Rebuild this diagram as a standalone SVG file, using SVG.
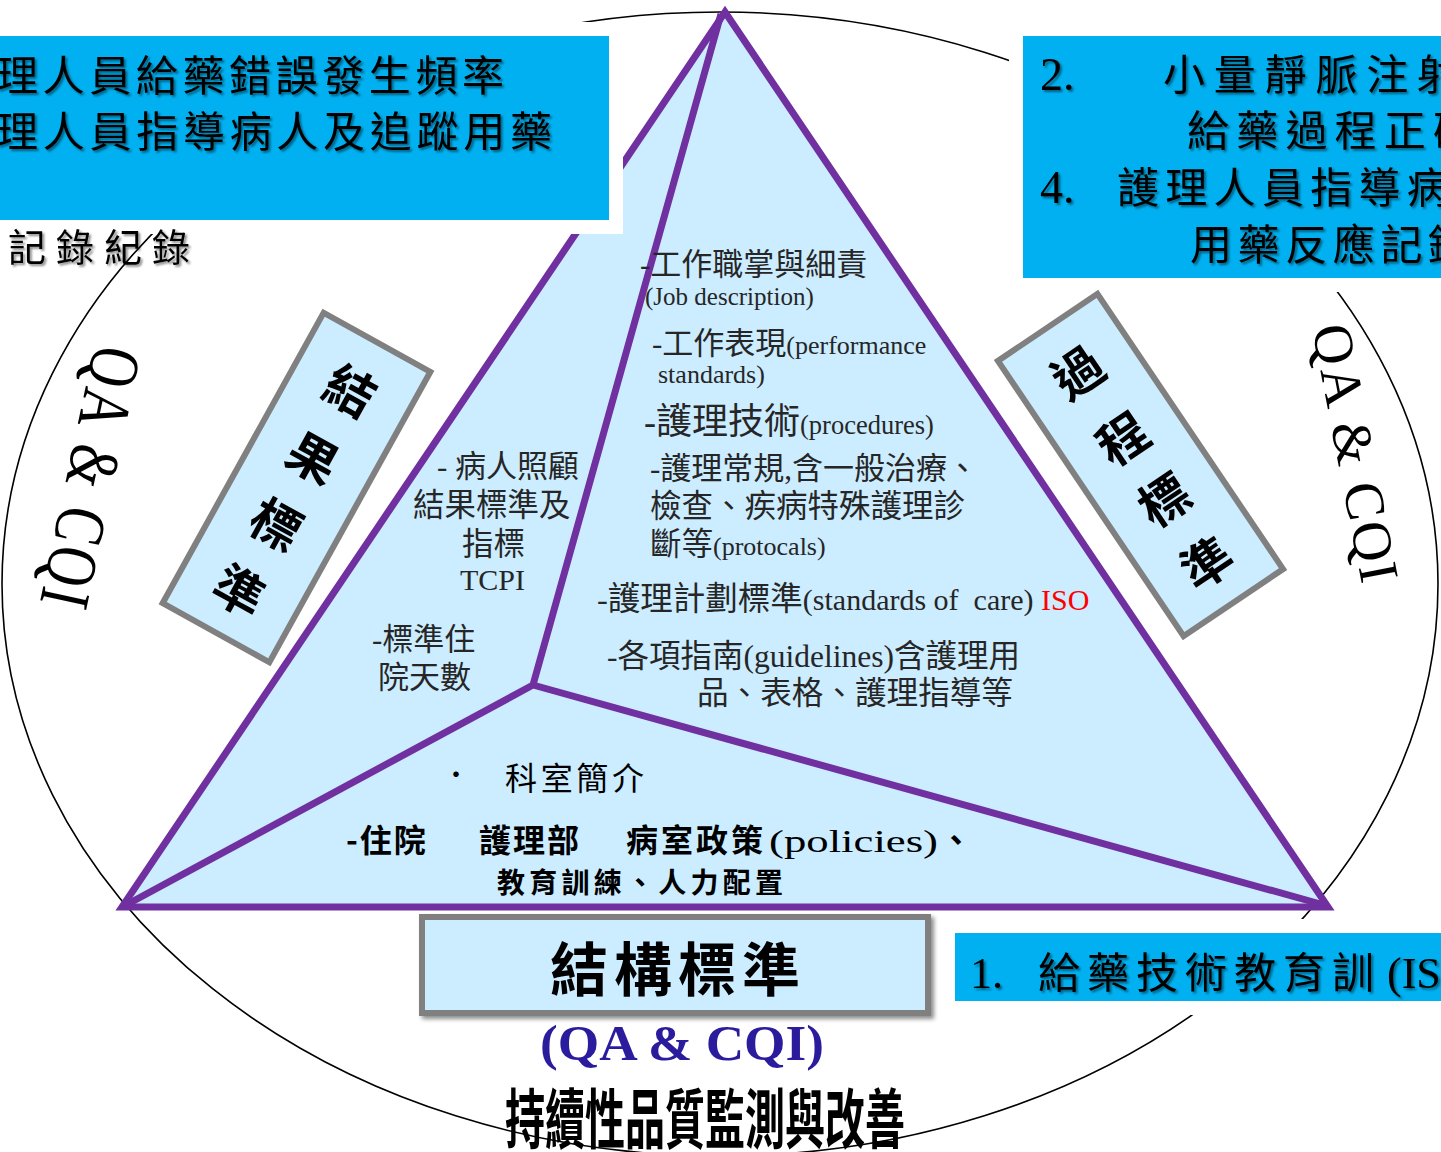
<svg xmlns="http://www.w3.org/2000/svg" width="1441" height="1152" viewBox="0 0 1441 1152">
<defs>
<style>
.cjk{font-family:"Noto Sans CJK TC","Noto Sans CJK SC",sans-serif;}
.mix{font-family:"Liberation Serif","Noto Sans CJK TC",serif;}
.serif{font-family:"Liberation Serif",serif;}
.blue{fill:#00B0F0;stroke:#FFFFFF;stroke-width:14;}
.lbl{fill:#CCECFF;stroke:#808080;stroke-width:6;}
.body{fill:#262626;}
.kai{fill:#000;}
</style>
<filter id="ts" x="-5%" y="-30%" width="110%" height="160%"><feDropShadow dx="2" dy="2" stdDeviation="1.2" flood-color="#000" flood-opacity="0.45"/></filter>
<filter id="bs" x="-5%" y="-10%" width="112%" height="125%"><feDropShadow dx="3" dy="3" stdDeviation="2" flood-color="#000" flood-opacity="0.45"/></filter>
</defs>
<rect width="1441" height="1152" fill="#FFFFFF"/>
<g id="cycle">
<ellipse cx="720" cy="584" rx="718" ry="572" fill="none" stroke="#000" stroke-width="1.6"/>
</g>
<g id="connectors">
<polygon points="725,12 1328,907 122,907" fill="#CCECFF" stroke="#7030A0" stroke-width="7" stroke-linejoin="miter" stroke-miterlimit="10"/>
<path d="M721,14 L533,685 L126,905 M533,685 L1324,905" fill="none" stroke="#7030A0" stroke-width="7" stroke-linejoin="miter"/>
</g>
<g id="process-content" class="mix body">
<text x="640" y="275" font-size="31">-工作職掌與細責</text>
<text x="645" y="305" font-size="25" class="serif body">(Job description)</text>
<text x="652" y="354" font-size="31">-工作表現<tspan font-size="26">(performance</tspan></text>
<text x="658" y="383" font-size="26" class="serif body">standards)</text>
<text x="644" y="434" font-size="36">-護理技術<tspan font-size="26.5">(procedures)</tspan></text>
<text x="650" y="479" font-size="31">-護理常規,含一般治療、</text>
<text x="650" y="517" font-size="31.5">檢查、疾病特殊護理診</text>
<text x="650" y="555" font-size="31.5">斷等<tspan font-size="26">(protocals)</tspan></text>
<text x="597" y="610" font-size="32.5" xml:space="preserve">-護理計劃標準<tspan font-size="30">(standards of  care) </tspan><tspan font-size="30" fill="#FF0000">ISO</tspan></text>
<text x="607" y="667" font-size="31.5">-各項指南(guidelines)含護理用</text>
<text x="697" y="704" font-size="31.6">品、表格、護理指導等</text>
</g>
<g id="outcome-content" class="mix body">
<text x="437" y="477" font-size="31">- 病人照顧</text>
<text x="413" y="516" font-size="31.5">結果標準及</text>
<text x="462" y="555" font-size="31.5">指標</text>
<text x="460" y="590" font-size="30" class="serif body">TCPI</text>
<text x="372" y="650" font-size="31">-標準住</text>
<text x="378" y="688" font-size="31">院天數</text>
</g>
<g id="structure-content" class="cjk kai">
<text x="443" y="784" font-size="26">•</text>
<text x="505" y="790" font-size="32" textLength="139" lengthAdjust="spacing">科室簡介</text>
<text y="852" font-size="32" font-weight="700"><tspan x="346" letter-spacing="2">-住院</tspan><tspan x="479" letter-spacing="2">護理部</tspan><tspan x="626" letter-spacing="3">病室政策</tspan><tspan x="769" class="serif" font-weight="400" textLength="169" lengthAdjust="spacingAndGlyphs">(policies)</tspan><tspan x="940">、</tspan></text>
<text x="497" y="893" font-size="28" font-weight="700" textLength="286" lengthAdjust="spacing">教育訓練、人力配置</text>
</g>
<g id="node-outcome-indicators">
<rect class="blue" x="-10" y="29" width="626" height="198"/>
<text class="cjk kai" filter="url(#ts)" x="-4" y="91" font-size="42" textLength="508" lengthAdjust="spacing">理人員給藥錯誤發生頻率</text>
<text class="cjk kai" filter="url(#ts)" x="-4" y="147" font-size="42" textLength="556" lengthAdjust="spacing">理人員指導病人及追蹤用藥</text>
</g>
<g id="node-record-note">
<text class="cjk kai" filter="url(#ts)" x="8" y="261" font-size="38" textLength="182" lengthAdjust="spacing">記錄紀錄</text>
</g>
<g id="node-process-indicators">
<rect class="blue" x="1016" y="29" width="440" height="256"/>
<g class="kai" filter="url(#ts)">
<text class="serif" x="1040" y="90" font-size="46">2.</text>
<text class="cjk" x="1163" y="90" font-size="42" letter-spacing="8.8">小量靜脈注射</text>
<text class="cjk" x="1187" y="146" font-size="42" letter-spacing="7.2">給藥過程正確</text>
<text class="serif" x="1040" y="203" font-size="46">4.</text>
<text class="cjk" x="1117" y="203" font-size="42" letter-spacing="6.3">護理人員指導病</text>
<text class="cjk" x="1190" y="260" font-size="42" letter-spacing="5.6">用藥反應記錄</text>
</g>
</g>
<g id="node-structure-indicators">
<rect class="blue" x="948" y="926" width="510" height="82"/>
<g class="kai" filter="url(#ts)">
<text class="serif" x="970" y="988" font-size="44">1.</text>
<text class="cjk" x="1038" y="988" font-size="42" letter-spacing="7">給藥技術教育訓</text>
<text class="serif" x="1387" y="988" font-size="44">(IS</text>
</g>
</g>
<g id="node-outcome" transform="translate(296.5,487.5) rotate(29)">
<rect class="lbl" x="-61" y="-166" width="122" height="332"/>
<g class="cjk kai" font-size="50" font-weight="700" text-anchor="middle">
<text x="0" y="-92">結</text>
<text x="0" y="-15">果</text>
<text x="0" y="61">標</text>
<text x="0" y="137">準</text>
</g>
</g>
<g id="node-process" transform="translate(1140.5,465) rotate(-34)">
<rect class="lbl" x="-60" y="-166" width="120" height="332"/>
<g class="cjk kai" font-size="50" font-weight="700" text-anchor="middle">
<text x="0" y="-93">過</text>
<text x="0" y="-13">程</text>
<text x="0" y="61">標</text>
<text x="0" y="137">準</text>
</g>
</g>
<g id="node-structure">
<rect class="lbl" x="422" y="917" width="506" height="96" stroke="#7F7F7F" stroke-width="5" filter="url(#bs)"/>
<text class="cjk kai" x="678" y="991" font-size="58" font-weight="700" text-anchor="middle" letter-spacing="6">結構標準</text>
</g>
<g id="node-qa-cqi-bottom">
<text class="serif" x="540" y="1060" font-size="50" font-weight="700" fill="#2A1C9C" textLength="284" lengthAdjust="spacingAndGlyphs">(QA &amp; CQI)</text>
<text class="cjk kai" transform="translate(505,1143) scale(1,1.3)" x="0" y="0" font-size="50" font-weight="700" textLength="400" lengthAdjust="spacingAndGlyphs">持續性品質監測與改善</text>
</g>
<g id="node-qa-cqi-left">
<text class="serif kai" transform="translate(95,343) rotate(102) scale(1,1.3)" x="0" y="0" font-size="55" textLength="265" lengthAdjust="spacing">QA &amp; CQI</text>
</g>
<g id="node-qa-cqi-right">
<text class="serif kai" transform="translate(1312,328) rotate(79)" x="0" y="0" font-size="56" textLength="262" lengthAdjust="spacing">QA &amp; CQI</text>
</g>
</svg>
